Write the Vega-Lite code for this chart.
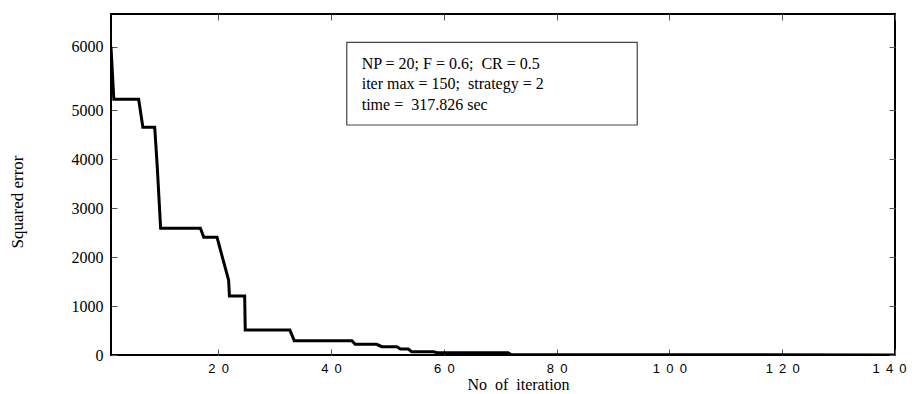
{
  "$schema": "https://vega.github.io/schema/vega-lite/v6.json",
  "width": 784,
  "height": 341,
  "autosize": {"type": "none"},
  "padding": {"left": 111, "top": 14, "right": 17, "bottom": 39},
  "background": "white",
  "config": {
    "view": {"stroke": "black", "strokeWidth": 2},
    "axis": {
      "domain": false,
      "grid": false,
      "tickColor": "#555",
      "tickWidth": 1,
      "tickSize": -6,
      "labelColor": "black",
      "titleColor": "black",
      "titleFontWeight": "normal",
      "labelFlush": false
    }
  },
  "datasets": {
    "curve": [
      {"iteration": 1, "error": 6000},
      {"iteration": 1.5, "error": 5169},
      {"iteration": 5.9, "error": 5169},
      {"iteration": 6.65, "error": 4647},
      {"iteration": 8.75, "error": 4647},
      {"iteration": 9.2, "error": 3843},
      {"iteration": 9.8, "error": 2586},
      {"iteration": 16.85, "error": 2586},
      {"iteration": 17.45, "error": 2402},
      {"iteration": 19.8, "error": 2402},
      {"iteration": 20.8, "error": 1973},
      {"iteration": 21.85, "error": 1531},
      {"iteration": 22.0, "error": 1204},
      {"iteration": 24.7, "error": 1204},
      {"iteration": 24.8, "error": 510},
      {"iteration": 32.7, "error": 510},
      {"iteration": 33.5, "error": 292},
      {"iteration": 43.7, "error": 292},
      {"iteration": 44.3, "error": 218},
      {"iteration": 48.1, "error": 218},
      {"iteration": 49.0, "error": 169},
      {"iteration": 51.7, "error": 169},
      {"iteration": 52.3, "error": 122},
      {"iteration": 53.7, "error": 122},
      {"iteration": 54.3, "error": 67},
      {"iteration": 58.2, "error": 67},
      {"iteration": 58.8, "error": 45},
      {"iteration": 71.4, "error": 45},
      {"iteration": 72.0, "error": 5},
      {"iteration": 140, "error": 2}
    ],
    "box": [{"x0": 42.8, "x1": 94.3, "y0": 6069, "y1": 4694}],
    "notes": [
      {"x": 45.45, "y": 5640, "label": "NP = 20; F = 0.6;\u00a0 CR = 0.5"},
      {"x": 45.45, "y": 5324, "label": "iter max = 150;\u00a0 strategy = 2"},
      {"x": 45.45, "y": 5000, "label": "time =\u00a0 317.826 sec"}
    ]
  },
  "layer": [
    {
      "data": {"name": "curve"},
      "mark": {"type": "line", "color": "black", "strokeWidth": 3, "clip": true},
      "encoding": {
        "x": {
          "field": "iteration",
          "type": "quantitative",
          "scale": {"domain": [1, 140], "nice": false, "zero": false},
          "axis": {
            "orient": "bottom",
            "values": [20, 40, 60, 80, 100, 120, 140],
            "labelExpr": "join(split(datum.label, ''), '\u00a0\u2009')",
            "labelFont": "Liberation Sans",
            "labelFontSize": 13,
            "labelPadding": 13,
            "labelOffset": {"condition": {"test": "datum.value === 140", "value": -6}, "value": 0},
            "title": "No\u00a0 of\u00a0 iteration",
            "titleFont": "Liberation Serif",
            "titleFontSize": 16,
            "titleX": 407,
            "titleY": 34,
            "titleAlign": "center",
            "titleBaseline": "alphabetic"
          }
        },
        "y": {
          "field": "error",
          "type": "quantitative",
          "scale": {"type": "linear", "domain": [0, 5000, 6517], "range": [341, 96, 0], "nice": false, "zero": false},
          "axis": {
            "orient": "left",
            "values": [0, 1000, 2000, 3000, 4000, 5000, 6000],
            "format": "d",
            "labelFont": "Liberation Serif",
            "labelFontSize": 16,
            "labelPadding": 14,
            "title": "Squared error",
            "titleFont": "Liberation Serif",
            "titleFontSize": 17,
            "titleX": -94,
            "titleY": 187.5,
            "titleAngle": -90,
            "titleAlign": "center",
            "titleBaseline": "middle"
          }
        }
      }
    },
    {
      "data": {"name": "curve"},
      "mark": {"type": "point", "opacity": 0},
      "encoding": {
        "x": {
          "field": "iteration",
          "type": "quantitative",
          "scale": {"domain": [1, 140], "nice": false, "zero": false},
          "axis": {"orient": "top", "values": [20, 40, 60, 80, 100, 120, 140], "labels": false, "title": null}
        },
        "y": {
          "field": "error",
          "type": "quantitative",
          "scale": {"type": "linear", "domain": [0, 5000, 6517], "range": [341, 96, 0], "nice": false, "zero": false},
          "axis": {"orient": "right", "values": [0, 1000, 2000, 3000, 4000, 5000, 6000], "labels": false, "title": null}
        }
      }
    },
    {
      "data": {"name": "box"},
      "mark": {"type": "rect", "fill": "white", "stroke": "#444", "strokeWidth": 1.2},
      "encoding": {
        "x": {"field": "x0", "type": "quantitative", "axis": null, "scale": {"domain": [1, 140], "nice": false, "zero": false}},
        "x2": {"field": "x1"},
        "y": {"field": "y0", "type": "quantitative", "axis": null, "scale": {"type": "linear", "domain": [0, 5000, 6517], "range": [341, 96, 0], "nice": false, "zero": false}},
        "y2": {"field": "y1"}
      }
    },
    {
      "data": {"name": "notes"},
      "mark": {"type": "text", "align": "left", "baseline": "alphabetic", "font": "Liberation Serif", "fontSize": 16, "color": "black"},
      "encoding": {
        "x": {"field": "x", "type": "quantitative", "axis": null, "scale": {"domain": [1, 140], "nice": false, "zero": false}},
        "y": {"field": "y", "type": "quantitative", "axis": null, "scale": {"type": "linear", "domain": [0, 5000, 6517], "range": [341, 96, 0], "nice": false, "zero": false}},
        "text": {"field": "label"}
      }
    }
  ],
  "resolve": {"axis": {"x": "independent", "y": "independent"}}
}
